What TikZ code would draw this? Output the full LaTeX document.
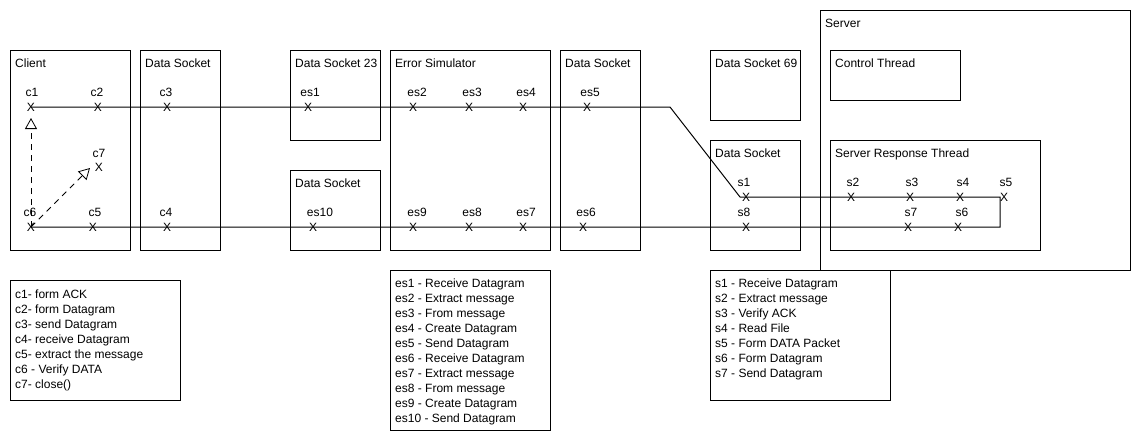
\documentclass[tikz,border=0pt]{standalone}
\usepackage{fontspec}
\setmainfont{Liberation Sans}
\usetikzlibrary{arrows.meta}
\begin{document}
\begin{tikzpicture}[x=1pt,y=-1pt,
  every node/.style={font=\fontsize{12}{15}\selectfont},
  box/.style={draw,line width=1pt,anchor=north west,inner sep=0pt},
  ttl/.style={anchor=base west,inner sep=0pt},
  lbl/.style={anchor=base,inner sep=0pt},
  mk/.style={anchor=center,inner sep=0pt},
  leg/.style={anchor=base west,inner sep=0pt},
  flow/.style={line width=1pt},
  dsh/.style={line width=0.8pt,dash pattern=on 6pt off 5pt,-{Triangle[open,length=11pt,width=12pt,line width=0.8pt]}}]
\useasboundingbox (0,0) rectangle (1140,440);
% boxes
\node[box,minimum width=120pt,minimum height=200pt] (client) at (10,50) {};
\node[ttl] (tclient) at (15,67) {Client};
\node[box,minimum width=80pt,minimum height=200pt] (ds1) at (140,50) {};
\node[ttl] (tds1) at (145,67) {Data Socket};
\node[box,minimum width=90pt,minimum height=90pt] (ds23) at (290,50) {};
\node[ttl] (tds23) at (295,67) {Data Socket 23};
\node[box,minimum width=90pt,minimum height=80pt] (ds2) at (290,170) {};
\node[ttl] (tds2) at (295,187) {Data Socket};
\node[box,minimum width=160pt,minimum height=200pt] (es) at (390,50) {};
\node[ttl] (tes) at (395,67) {Error Simulator};
\node[box,minimum width=80pt,minimum height=200pt] (ds3) at (560,50) {};
\node[ttl] (tds3) at (565,67) {Data Socket};
\node[box,minimum width=90pt,minimum height=70pt] (ds69) at (710,50) {};
\node[ttl] (tds69) at (715,67) {Data Socket 69};
\node[box,minimum width=90pt,minimum height=110pt] (ds4) at (710,140) {};
\node[ttl] (tds4) at (715,157) {Data Socket};
\node[box,minimum width=310pt,minimum height=260pt] (srv) at (820,10) {};
\node[ttl] (tsrv) at (825,27) {Server};
\node[box,minimum width=130pt,minimum height=50pt] (ct) at (830,50) {};
\node[ttl] (tct) at (835,67) {Control Thread};
\node[box,minimum width=210pt,minimum height=110pt] (srt) at (830,140) {};
\node[ttl] (tsrt) at (835,157) {Server Response Thread};
% legend boxes
\node[box,minimum width=170pt,minimum height=120pt] (legc) at (10,280) {};
\node[box,minimum width=160pt,minimum height=160pt] (leges) at (390,270) {};
\node[box,minimum width=180pt,minimum height=130pt] (legs) at (710,270) {};
\foreach \t [count=\i] in {c1- form ACK,c2- form Datagram,c3- send Datagram,c4- receive Datagram,c5- extract the message,c6 - Verify DATA,c7- close()}
  \node[leg] (lc\i) at (15,{298+15*(\i-1)}) {\t};
\foreach \t [count=\i] in {es1 - Receive Datagram,es2 - Extract message,es3 - From message,es4 - Create Datagram,es5 - Send Datagram,es6 - Receive Datagram,es7 - Extract message,es8 - From message,es9 - Create Datagram,es10 - Send Datagram}
  \node[leg] (les\i) at (395,{287+15*(\i-1)}) {\t};
\foreach \t [count=\i] in {s1 - Receive Datagram,s2 - Extract message,s3 - Verify ACK,s4 - Read File,s5 - Form DATA Packet,s6 - Form Datagram,s7 - Send Datagram}
  \node[leg] (ls\i) at (715,{287+15*(\i-1)}) {\t};
% labels and marks
\foreach \n/\lx/\ly/\mx/\my in {c1/32/96/31/107,c2/97/96/98/107,c3/166/96/167/107,c7/99/157/99/167,c6/30/216/31/227,c5/95/216/93/227,c4/166/216/167/227,
  es1/310/96/308/107,es2/417/96/413/107,es3/472/96/469/107,es4/526/96/523/107,es5/590/96/587/107,
  es10/320/216/313/227,es9/417/216/413/227,es8/472/216/469/227,es7/526/216/523/227,es6/586/216/583/227,
  s1/744/186/746/197,s2/853/186/851/197,s3/912/186/910/197,s4/963/186/960/197,s5/1006/186/1004/197,
  s8/744/216/746/227,s7/911/216/908/227,s6/962/216/958/227}{
  \node[lbl] (l\n) at (\lx,\ly) {\n};
  \node[mk] (\n) at (\mx,\my) {X};
}
% flow line
\coordinate (k1) at (670,107);
\coordinate (k2) at (740,197);
\coordinate (k3) at (1000,197);
\coordinate (k4) at (1000,227);
\coordinate (k5) at (31,227);
\draw[flow] (c1.center) -- (k1) -- (k2) -- (k3) -- (k4) -- (k5);
% dashed arrows
\coordinate (a1) at (31,118);
\coordinate (a2) at (90,168);
\draw[dsh] (c6.center) -- (a1);
\draw[dsh] (c6.center) -- (a2);
\end{tikzpicture}
\end{document}
